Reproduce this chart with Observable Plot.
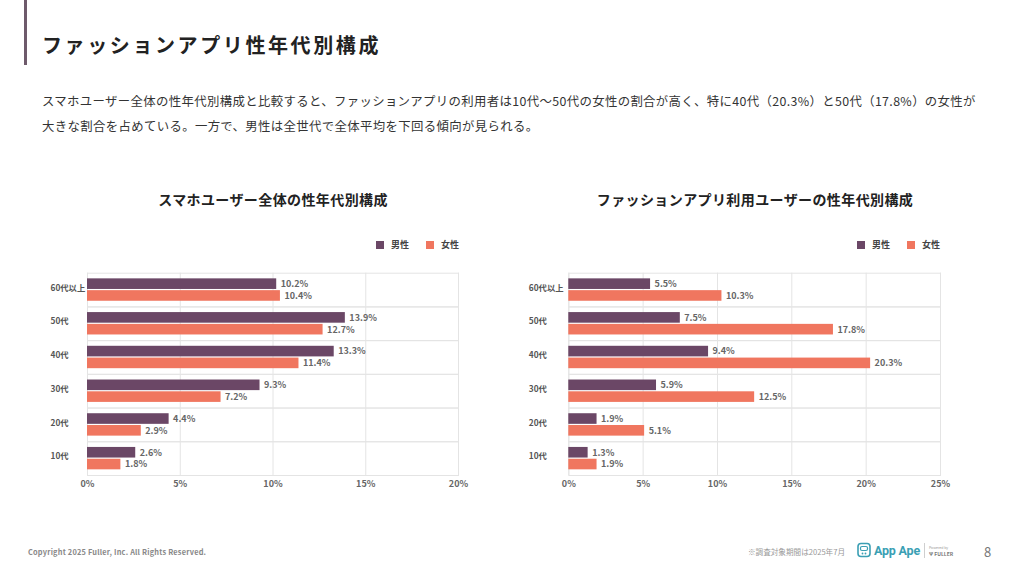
<!DOCTYPE html>
<html>
<head>
<meta charset="utf-8">
<script src="https://cdn.jsdelivr.net/npm/d3@7"></script>
<script src="https://cdn.jsdelivr.net/npm/@observablehq/plot@0.6"></script>
<style>
  html, body { margin: 0; padding: 0; background: #fff; }
  body { width: 1024px; height: 576px; position: relative; overflow: hidden; font-family: "Noto Sans CJK JP", "Noto Sans", sans-serif; color: #333; }
  .abs { position: absolute; white-space: nowrap; }
  #bar { left: 24px; top: 0; width: 3px; height: 65px; background: #6e5a6b; }
  #title { left: 42px; top: 31px; font-size: 20px; font-weight: 700; letter-spacing: 2.6px; color: #222; line-height: 28px; }
  #desc { left: 42px; top: 89px; font-size: 12.4px; line-height: 25px; color: #333; letter-spacing: 0.35px; }
  .ctitle { top: 189px; font-size: 14px; font-weight: 700; color: #222; letter-spacing: 0.4px; transform: translateX(-50%); line-height: 20px; }
  .leg { top: 238px; font-size: 9px; font-weight: 700; color: #444; line-height: 14px; display: flex; align-items: center; }
  .sw { display: inline-block; width: 8px; height: 8px; margin-right: 7px; }
  .chart { position: absolute; }
  #foot1 { left: 28px; top: 546px; font-size: 7.4px; color: #888; font-weight: 700; letter-spacing: 0.2px; }
  #foot2 { left: 748px; top: 546px; font-size: 7.6px; color: #999; }
  #logo { left: 857px; top: 542px; display: flex; align-items: center; }
  #page { left: 984px; top: 542px; font-size: 13px; color: #777; }
</style>
</head>
<body>
<div id="bar" class="abs"></div>
<div id="title" class="abs">ファッションアプリ性年代別構成</div>
<div id="desc" class="abs">スマホユーザー全体の性年代別構成と比較すると、ファッションアプリの利用者は10代〜50代の女性の割合が高く、特に40代（20.3%）と50代（17.8%）の女性が<br>大きな割合を占めている。一方で、男性は全世代で全体平均を下回る傾向が見られる。</div>

<div class="abs ctitle" style="left:273px">スマホユーザー全体の性年代別構成</div>
<div class="abs ctitle" style="left:755px">ファッションアプリ利用ユーザーの性年代別構成</div>

<div class="abs leg" style="left:376px"><span class="sw" style="background:#6b4766"></span>男性<span class="sw" style="background:#f0765f;margin-left:17px"></span>女性</div>
<div class="abs leg" style="left:857px"><span class="sw" style="background:#6b4766"></span>男性<span class="sw" style="background:#f0765f;margin-left:17px"></span>女性</div>

<div id="left" class="chart" style="left:40px;top:260px"></div>
<div id="right" class="chart" style="left:510px;top:260px"></div>

<div id="foot1" class="abs">Copyright 2025 Fuller, Inc. All Rights Reserved.</div>
<div id="foot2" class="abs">※調査対象期間は2025年7月</div>
<div id="logo" class="abs">
  <svg width="14" height="16" viewBox="0 0 14 16">
    <rect x="1" y="1.5" width="12" height="13" rx="3" fill="none" stroke="#3b9fb4" stroke-width="1.6"/>
    <rect x="3.5" y="4.5" width="7" height="4" rx="1.5" fill="none" stroke="#3b9fb4" stroke-width="1.2"/>
    <circle cx="5.5" cy="11.5" r="0.9" fill="#3b9fb4"/><circle cx="8.5" cy="11.5" r="0.9" fill="#3b9fb4"/>
  </svg>
  <span style="font-family:Roboto,sans-serif;font-weight:700;font-size:12.5px;color:#3b9fb4;margin-left:3px;letter-spacing:-0.2px">App Ape</span>
  <span style="display:inline-block;width:1px;height:15px;background:#cfcfcf;margin:0 4px"></span>
  <span style="display:flex;flex-direction:column;line-height:5px;font-size:3.5px;color:#999">
    <span>Powered by</span>
    <span style="font-size:5px;font-weight:700;color:#777;margin-top:1px">Ψ FULLER</span>
  </span>
</div>
<div id="page" class="abs">8</div>

<script>
// ---- data ----
const ages = ["60代以上", "50代", "40代", "30代", "20代", "10代"];
const sexes = ["男性", "女性"];
const colors = ["#6b4766", "#f0765f"];

const allMale = [10.2, 13.9, 13.3, 9.3, 4.4, 2.6];
const allFemale = [10.4, 12.7, 11.4, 7.2, 2.9, 1.8];
const fashionMale = [5.5, 7.5, 9.4, 5.9, 1.9, 1.3];
const fashionFemale = [10.3, 17.8, 20.3, 12.5, 5.1, 1.9];

const ticksAll = [0, 5, 10, 15, 20];
const ticksFashion = [0, 5, 10, 15, 20, 25];

function rows(male, female) {
  const out = [];
  ages.forEach((a, i) => {
    out.push({age: a, sex: sexes[0], value: male[i]});
    out.push({age: a, sex: sexes[1], value: female[i]});
  });
  return out;
}

function chart(data, ticks, width, marginLeft, marginRight, labelDx) {
  return Plot.plot({
    width,
    height: 240,
    marginTop: 12.7,
    marginBottom: 25,
    marginLeft,
    marginRight,
    style: {fontFamily: '"Noto Sans CJK JP", "Noto Sans", sans-serif', fontSize: "9px", background: "#fff"},
    x: {domain: [ticks[0], ticks[ticks.length - 1]], axis: null},
    fy: {domain: ages, padding: 0, round: false, axis: null},
    y: {domain: sexes, paddingInner: 0.1, paddingOuter: 0.48, round: false, axis: null},
    color: {domain: sexes, range: colors},
    marks: [
      Plot.gridX(ticks, {stroke: "#e4e4e4", strokeOpacity: 1}),
      Plot.frame({stroke: "#e4e4e4"}),
      Plot.barX(data, {x: "value", y: "sex", fy: "age", fill: "sex"}),
      Plot.text(data, {x: "value", y: "sex", fy: "age", text: d => d.value.toFixed(1) + "%", textAnchor: "start", dx: 4, fill: "#666", fontWeight: "bold", fontSize: 9}),
      Plot.axisFy({anchor: "left", tickSize: 0, tickPadding: 0, textAnchor: "start", dx: labelDx, label: null, color: "#555", fontWeight: "bold", fontSize: 8.3, dy: -2}),
      Plot.axisX(ticks, {anchor: "bottom", tickSize: 0, tickPadding: 5, tickFormat: d => d + "%", label: null, color: "#666", fontWeight: "bold", fontSize: 9, facetAnchor: "bottom"})
    ]
  });
}

document.getElementById("left").appendChild(chart(rows(allMale, allFemale), ticksAll, 440, 47, 22, -37));
document.getElementById("right").appendChild(chart(rows(fashionMale, fashionFemale), ticksFashion, 450, 58.3, 20, -40));
</script>
</body>
</html>
